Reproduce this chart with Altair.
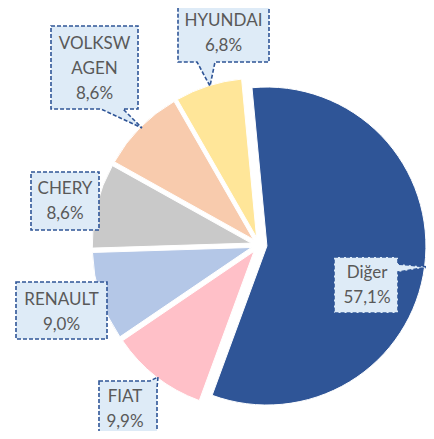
import math
import altair as alt
import pandas as pd

# ---- data ----
brands = ["Diğer", "FIAT", "RENAULT", "CHERY", "VOLKSWAGEN", "HYUNDAI"]
shares = [57.1, 9.9, 9.0, 8.6, 8.6, 6.8]
label_names = ["Diğer", "FIAT", "RENAULT", "CHERY", "VOLKSW\nAGEN", "HYUNDAI"]
colors = ["#2F5597", "#FFC0C8", "#B4C7E7", "#C9C9C9", "#F8CBAD", "#FFE699"]

# ---- layout (page pixels) ----
M = 8
CX, CY = 259 - M, 245 - M
R = 159
EXPLODE = 8
START = math.radians(-5.4)
LINE_H = 25

# callout boxes: x0, y0, x1, y1, pointer, text nudge
boxes = {
    "HYUNDAI": (178, 4, 269, 62, ("bottom", 197, 215, 210, 86), (0, 0)),
    "VOLKSWAGEN": (51, 26, 138, 109, ("bottom", 101, 123, 142, 128), (0, 1)),
    "CHERY": (31, 172, 99, 230, None, (0, 0)),
    "RENAULT": (16, 282, 107, 339, None, (0, 1.5)),
    "FIAT": (99, 381, 157, 436, ("corner", 150, 388, 158, 377), (-3, 1)),
    "Diğer": (334, 257, 398, 313, ("right", 264, 272, 429, 267), (1, 0)),
}

rows = []
cum = 0.0
for b, s in zip(brands, shares):
    t0, t1 = cum, cum + s
    cum = t1
    mid = START + (t0 + s / 2) / 100 * 2 * math.pi
    rows.append(dict(brand=b, share=s, t0=t0, t1=t1,
                     cx=CX + EXPLODE * math.sin(mid),
                     cy=CY - EXPLODE * math.cos(mid)))
pie_df = pd.DataFrame(rows)


def callout_path(x0, y0, x1, y1, ptr):
    pts = [(x0, y0)]
    if ptr and ptr[0] == "corner":
        pts += [(ptr[1], y0), (ptr[3], ptr[4]), (x1, ptr[2])]
    else:
        pts.append((x1, y0))
    if ptr and ptr[0] == "right":
        pts += [(x1, ptr[1]), (ptr[3], ptr[4]), (x1, ptr[2])]
    pts.append((x1, y1))
    if ptr and ptr[0] == "bottom":
        pts += [(ptr[2], y1), (ptr[3], ptr[4]), (ptr[1], y1)]
    pts.append((x0, y1))
    cx, cy = (x0 + x1) / 2, (y0 + y1) / 2
    return "M" + " L".join(f"{x - cx:.1f},{y - cy:.1f}" for x, y in pts) + " Z"


lab_rows = []
for b, s, name in zip(brands, shares, label_names):
    x0, y0, x1, y1, ptr, (dx, dy) = boxes[b]
    cx, cy = (x0 + x1) / 2 - M, (y0 + y1) / 2 - M
    pct = f"{s:.1f}".replace(".", ",") + "%"
    label = name + "\n" + pct
    n = label.count("\n")
    lab_rows.append(dict(brand=b, bx=cx, by=cy, tx=cx + dx,
                         ty=cy + dy - n * LINE_H / 2,
                         path=callout_path(x0, y0, x1, y1, ptr),
                         label=label))
lab_df = pd.DataFrame(lab_rows)

pie = alt.Chart(pie_df).mark_arc(radius=R, stroke="white", strokeWidth=1).encode(
    theta=alt.Theta("t0:Q", scale=alt.Scale(domain=[0, 100], range=[START, START + 2 * math.pi]), stack=False),
    theta2="t1:Q",
    x=alt.X("cx:Q", scale=None),
    y=alt.Y("cy:Q", scale=None),
    color=alt.Color("brand:N", scale=alt.Scale(domain=brands, range=colors), legend=None),
)

callouts = alt.Chart(lab_df).mark_point(
    filled=True, fill="#DEEBF7", stroke="#2F5597", strokeWidth=1.6,
    strokeDash=[4, 2], size=4, opacity=1
).encode(
    x=alt.X("bx:Q", scale=None),
    y=alt.Y("by:Q", scale=None),
    shape=alt.Shape("path:N", scale=None, legend=None),
)

texts = alt.Chart(lab_df).mark_text(
    font="Lato", fontSize=17, color="#595959", lineBreak="\n", lineHeight=LINE_H,
    align="center", baseline="middle"
).encode(
    x=alt.X("tx:Q", scale=None),
    y=alt.Y("ty:Q", scale=None),
    text="label:N",
)

chart = alt.layer(pie, callouts, texts).properties(
    width=418, height=423, autosize=alt.AutoSizeParams(type="none"), padding=0,
    background="white"
).configure_view(stroke=None)

chart.save("out.html", embed_options={"renderer": "svg", "actions": False})
